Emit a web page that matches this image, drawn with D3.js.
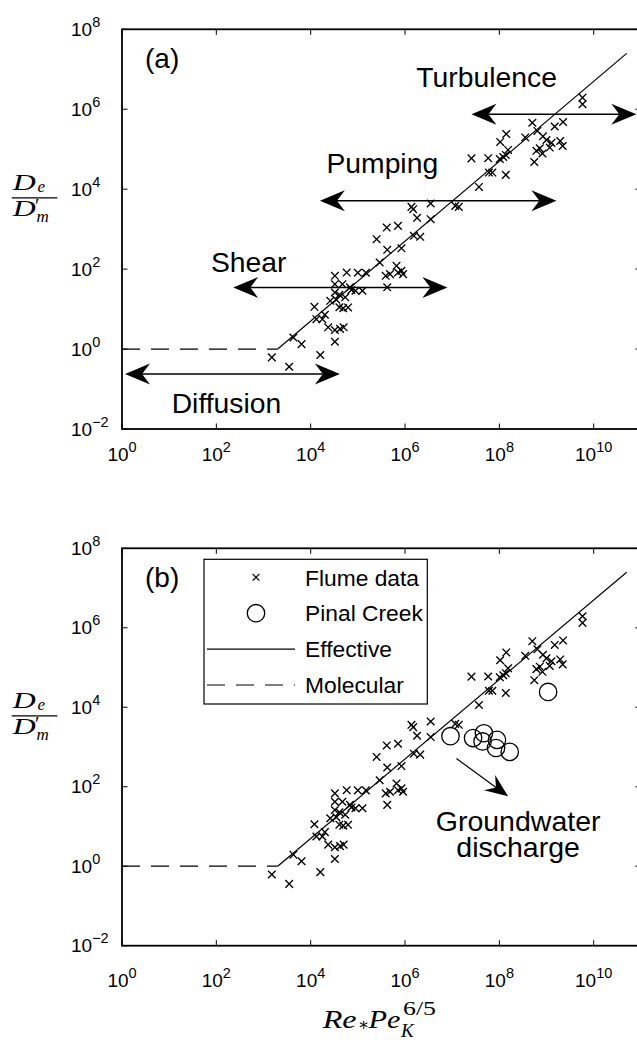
<!DOCTYPE html>
<html>
<head>
<meta charset="utf-8">
<script src="https://cdn.jsdelivr.net/npm/d3@7"></script>
<style>
  html, body { margin: 0; padding: 0; background: #fff; }
  svg { display: block; font-family: "Liberation Sans", Arial, Helvetica, sans-serif; }
</style>
</head>
<body>
<svg id="chart" width="637" height="1040"></svg>
<script>
// Flume experiments: Re* Pe_K^(6/5) vs. De / D'm
const flumeX = [1.5e3, 3.5e3, 4.3e3, 6.4e3, 1.6e4, 1.2e4, 1.32e4, 1.77e4, 2.0e4, 2.35e4,
  3.26e4, 4.2e4, 5.0e4, 3.26e4, 2.6e4, 3.5e4, 5.4e4, 4.06e4, 4.9e4, 6.2e4,
  3.26e4, 3.26e4, 4.7e4, 6.8e4, 7.3e4, 3.26e4, 4.06e4, 8.9e4, 1.25e5, 5.8e4,
  1.0e5, 1.48e5, 2.9e5, 3.9e5, 4.8e5, 4.2e5, 6.6e5, 7.1e5, 8.4e5, 9.1e5,
  2.5e5, 4.2e5, 8.4e5, 4.1e5, 7.1e5, 1.54e6, 2.1e6, 1.37e6, 1.49e6, 3.5e6,
  1.8e6, 3.5e6, 1.16e7, 1.38e7, 3.7e7, 2.56e7, 5.8e7, 6.0e7, 7.1e7, 1.37e8,
  1.02e8, 1.21e8, 1.37e8, 1.53e8, 1.04e8, 1.4e8, 3.54e8, 5.0e8, 6.4e8, 8.4e8,
  9.95e8, 1.27e9, 1.17e9, 7.2e8, 6.1e8, 8.2e8, 5.5e8, 1.49e9, 2.24e9, 1.95e9,
  2.2e9, 5.8e9, 5.8e9];
const flumeY = [0.62, 0.36, 1.95, 1.33, 0.71, 11.4, 5.6, 5.6, 7.2, 3.5,
  3.0, 3.2, 3.5, 1.52, 16.1, 17.1, 19.7, 11.1, 10.5, 11,
  68, 42, 42, 35, 30, 26, 22.8, 28.7, 28.7, 82,
  81, 81, 146, 68, 75, 35, 121, 82, 91, 75,
  562, 304, 331, 1096, 1209, 680, 642, 3610, 3160, 4370,
  1917, 1778, 3823, 3610, 1.14e4, 5.9e4, 5.96e4, 2.6e4, 2.6e4, 2.28e4,
  5.7e4, 6.4e4, 7.2e4, 9.6e4, 1.52e5, 2.4e5, 1.97e5, 4.6e5, 2.87e5, 2.1e5,
  1.7e5, 1.44e5, 1.1e5, 1.05e5, 9.1e4, 7.8e4, 4.8e4, 3.7e5, 4.8e5, 1.6e5,
  1.2e5, 1.95e6, 1.33e6];

// Pinal Creek field tracer data
const pinalX = [9.2e6, 2.77e7, 4.7e7, 4.4e7, 8.9e7, 8.5e7, 1.66e8, 1.08e9];
const pinalY = [1870, 1680, 2220, 1380, 1510, 943, 752, 2.43e4];

// Effective dispersion fit (slope one) and the molecular floor
const effectiveX = [2.0e3, 5.0e10];
const effectiveY = [1, 2.5e7];
const molecularX = [1, 2.0e3];
const molecularY = [1, 1];

const xTickExponents = [0, 2, 4, 6, 8, 10];
const yTickExponents = [-2, 0, 2, 4, 6, 8];

// Mixing regimes shown as double arrows in panel (a)
const regimeNames = ["Turbulence", "Pumping", "Shear", "Diffusion"];
const regimeFrom = [2.56e7, 1.57e4, 228, 1.16];
const regimeTo = [8.0e10, 1.62e9, 7.9e6, 4.16e4];
const regimeLevel = [7.5e5, 5100, 34.7, 0.237];
const regimeLabelAt = [[1.74e6, 3.6e6], [2.16e4, 2.6e4], [77, 87], [11.3, 0.0245]];

const svg = d3.select("#chart");
const serif = '"Liberation Serif", "DejaVu Serif", serif';

const x = d3.scaleLog().domain([1, 1e11]).range([122, 122 + 11 * 47.17]);

const panels = [
  { tag: "(a)", top: 29.3, bottom: 429, xLabelBase: 461, tagBase: 68 },
  { tag: "(b)", top: 548.3, bottom: 945.7, xLabelBase: 986.5, tagBase: 587 }
];

function crossPath(s) {
  return `M${-s},${-s}L${s},${s}M${-s},${s}L${s},${-s}`;
}

function headPath(tip, dir, L, w, n) {
  const [ux, uy] = dir, nx = -uy, ny = ux;
  const bx = tip[0] - L * ux, by = tip[1] - L * uy;
  return `M${tip[0]},${tip[1]}L${bx + w * nx},${by + w * ny}` +
         `L${tip[0] - n * ux},${tip[1] - n * uy}L${bx - w * nx},${by - w * ny}Z`;
}

function powerLabel(sel, exp, mainSize, supSize, rise) {
  sel.append("tspan").text("10").attr("font-size", mainSize);
  sel.append("tspan").text(exp < 0 ? "\u2212" + (-exp) : String(exp))
    .attr("font-size", supSize).attr("dy", -rise);
}

panels.forEach((p, pi) => {
  const y = d3.scaleLog().domain([1e-2, 1e8]).range([p.bottom, p.top]);
  const g = svg.append("g");
  const left = x.range()[0], right = x.range()[1];

  // Tick marks on all four sides, pointing inward
  const tl = 5.5;
  xTickExponents.forEach(e => {
    const px = x(Math.pow(10, e));
    g.append("line").attr("x1", px).attr("x2", px).attr("y1", p.bottom).attr("y2", p.bottom - tl)
      .attr("stroke", "#000").attr("stroke-width", 1);
    g.append("line").attr("x1", px).attr("x2", px).attr("y1", p.top).attr("y2", p.top + tl)
      .attr("stroke", "#000").attr("stroke-width", 1);
    const t = g.append("text").attr("x", px).attr("y", p.xLabelBase)
      .attr("text-anchor", "middle").attr("fill", "#000");
    powerLabel(t, e, 19, 14.5, 9);
  });
  yTickExponents.forEach(e => {
    const py = y(Math.pow(10, e));
    g.append("line").attr("x1", left).attr("x2", left + tl).attr("y1", py).attr("y2", py)
      .attr("stroke", "#000").attr("stroke-width", 1);
    g.append("line").attr("x1", right).attr("x2", right - tl).attr("y1", py).attr("y2", py)
      .attr("stroke", "#000").attr("stroke-width", 1);
    const t = g.append("text").attr("x", 71).attr("y", py + 6.7).attr("fill", "#000");
    powerLabel(t, e, 19, 14.5, 9);
  });

  // Frame
  g.append("rect").attr("x", left).attr("y", p.top)
    .attr("width", right - left).attr("height", p.bottom - p.top)
    .attr("fill", "none").attr("stroke", "#000").attr("stroke-width", 1.8);

  // Y-axis label: De / D'm
  const yl = y(1e4);
  const lab = g.append("g").attr("font-family", serif).attr("font-style", "italic").attr("fill", "#000");
  const num = lab.append("text");
  num.append("tspan").attr("x", 12.7).attr("y", yl + 1).attr("font-size", 23)
    .attr("textLength", 23).attr("lengthAdjust", "spacingAndGlyphs").text("D");
  num.append("tspan").attr("x", 37.5).attr("y", yl + 3).attr("font-size", 17).text("e");
  g.append("line").attr("x1", 11.7).attr("x2", 57.3).attr("y1", yl + 8.6).attr("y2", yl + 8.6)
    .attr("stroke", "#000").attr("stroke-width", 1.3);
  const den = lab.append("text");
  den.append("tspan").attr("x", 12.7).attr("y", yl + 26.6).attr("font-size", 23)
    .attr("textLength", 23).attr("lengthAdjust", "spacingAndGlyphs").text("D");
  den.append("tspan").attr("x", 35).attr("y", yl + 24).attr("font-size", 20)
    .attr("font-style", "normal").text("\u2032");
  den.append("tspan").attr("x", 36.5).attr("y", yl + 32.5).attr("font-size", 17).text("m");

  // Panel tag
  g.append("text").attr("x", 145).attr("y", p.tagBase).attr("font-size", 28).text(p.tag);

  // Effective fit and molecular floor
  const line = d3.line().x(d => x(d[0])).y(d => y(d[1]));
  g.append("path").attr("d", line(d3.zip(effectiveX, effectiveY)))
    .attr("fill", "none").attr("stroke", "#000").attr("stroke-width", 1.2);
  g.append("path").attr("d", line(d3.zip(molecularX, molecularY)))
    .attr("fill", "none").attr("stroke", "#000").attr("stroke-width", 1.2)
    .attr("stroke-dasharray", "18,11");

  // Flume data markers
  g.append("g").selectAll("path").data(d3.zip(flumeX, flumeY)).join("path")
    .attr("transform", d => `translate(${x(d[0])},${y(d[1])})`)
    .attr("d", crossPath(3.8))
    .attr("fill", "none").attr("stroke", "#000").attr("stroke-width", 1.35);

  if (pi === 0) {
    // Regime arrows
    regimeNames.forEach((name, i) => {
      const x1 = x(regimeFrom[i]), x2 = x(regimeTo[i]), py = y(regimeLevel[i]);
      const L = 25, w = 10.5, n = 17;
      g.append("line").attr("x1", x1 + n).attr("x2", x2 - n).attr("y1", py).attr("y2", py)
        .attr("stroke", "#000").attr("stroke-width", 1.5);
      g.append("path").attr("d", headPath([x1, py], [-1, 0], L, w, n)).attr("fill", "#000");
      g.append("path").attr("d", headPath([x2, py], [1, 0], L, w, n)).attr("fill", "#000");
      g.append("text").attr("x", x(regimeLabelAt[i][0])).attr("y", y(regimeLabelAt[i][1]))
        .attr("font-size", 28.3).attr("fill", "#000").text(name);
    });
  } else {
    // Pinal Creek circles
    g.append("g").selectAll("circle").data(d3.zip(pinalX, pinalY)).join("circle")
      .attr("cx", d => x(d[0])).attr("cy", d => y(d[1])).attr("r", 8.7)
      .attr("fill", "none").attr("stroke", "#000").attr("stroke-width", 1.3);

    // Groundwater discharge annotation
    const a0 = [x(1.23e7), y(513)], a1 = [x(1.53e8), y(57.7)];
    const dx = a1[0] - a0[0], dy = a1[1] - a0[1], len = Math.hypot(dx, dy);
    const u = [dx / len, dy / len];
    g.append("line").attr("x1", a0[0]).attr("y1", a0[1])
      .attr("x2", a1[0] - 14 * u[0]).attr("y2", a1[1] - 14 * u[1])
      .attr("stroke", "#000").attr("stroke-width", 1.2);
    g.append("path").attr("d", headPath(a1, u, 23, 9.5, 15)).attr("fill", "#000");
    const gw = g.append("text").attr("text-anchor", "middle").attr("font-size", 28.5);
    gw.append("tspan").attr("x", x(2.5e8)).attr("y", y(7.7)).text("Groundwater");
    gw.append("tspan").attr("x", x(2.5e8)).attr("y", y(1.68)).text("discharge");

    // Legend
    const lg = g.append("g");
    lg.append("rect").attr("x", 204).attr("y", 559.3).attr("width", 223.3).attr("height", 144.7)
      .attr("fill", "#fff").attr("stroke", "#000").attr("stroke-width", 1.2);
    const entries = ["Flume data", "Pinal Creek", "Effective", "Molecular"];
    entries.forEach((t, i) => {
      const base = 585.5 + i * 35.9, cy = base - 8.2;
      lg.append("text").attr("x", 305).attr("y", base).attr("font-size", 22.8).text(t);
      if (i === 0) {
        lg.append("path").attr("transform", `translate(256,${cy})`).attr("d", crossPath(3.4))
          .attr("fill", "none").attr("stroke", "#000").attr("stroke-width", 1.2);
      } else if (i === 1) {
        lg.append("circle").attr("cx", 256).attr("cy", cy).attr("r", 8.7)
          .attr("fill", "none").attr("stroke", "#000").attr("stroke-width", 1.3);
      } else {
        lg.append("line").attr("x1", 207).attr("x2", 295).attr("y1", cy).attr("y2", cy)
          .attr("stroke", "#000").attr("stroke-width", 1.2)
          .attr("stroke-dasharray", i === 3 ? "18,11" : null);
      }
    });

    // X-axis label: Re* Pe_K^(6/5)
    const xl = g.append("text").attr("font-family", serif).attr("fill", "#000");
    xl.append("tspan").attr("x", 322.7).attr("y", 1028).attr("font-size", 25)
      .attr("font-style", "italic").attr("textLength", 34)
      .attr("lengthAdjust", "spacingAndGlyphs").text("Re");
    xl.append("tspan").attr("x", 358).attr("y", 1030).attr("font-size", 17).text("\u2217");
    xl.append("tspan").attr("x", 368.5).attr("y", 1028).attr("font-size", 25)
      .attr("font-style", "italic").attr("textLength", 32)
      .attr("lengthAdjust", "spacingAndGlyphs").text("Pe");
    xl.append("tspan").attr("x", 401).attr("y", 1036.5).attr("font-size", 19)
      .attr("font-style", "italic").text("K");
    xl.append("tspan").attr("x", 403).attr("y", 1015).attr("font-size", 18)
      .attr("textLength", 33).attr("lengthAdjust", "spacingAndGlyphs").text("6/5");
  }
});
</script>
</body>
</html>
